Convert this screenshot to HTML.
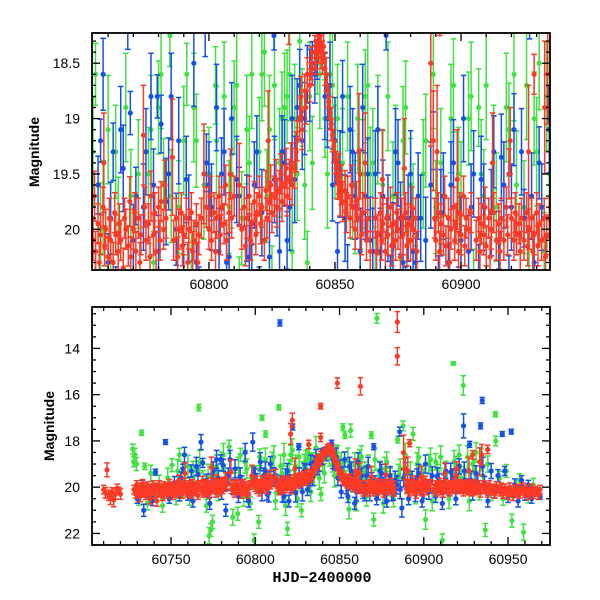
<!DOCTYPE html>
<html><head><meta charset="utf-8"><style>
body{margin:0;background:#fff}
svg{display:block}
text{font-family:"Liberation Sans",sans-serif;font-size:14px;fill:#000}
</style></head><body>
<svg id="chart" width="600" height="600" viewBox="0 0 600 600" xmlns="http://www.w3.org/2000/svg">
<g id="top"></g>
<g id="bot"></g>
<text transform="translate(39,152) rotate(-90)" text-anchor="middle" font-weight="bold">Magnitude</text>
<text transform="translate(54,426) rotate(-90)" text-anchor="middle" font-weight="bold">Magnitude</text>
<text x="322" y="582" text-anchor="middle" font-weight="bold" style="font-family:'Liberation Mono',monospace;font-size:15px">HJD−2400000</text>
</svg>
<script>
const redPts=[[60710,20.1,.12],[60711,20.25,.15],[60712,19.25,.2],[60713,20.35,.15],[60714,20.45,.2],[60715,20.2,.12],[60716,20.55,.2],[60717,20.3,.15],[60718,20.05,.12],[60719,20.15,.1],[60720,20.3,.15],
[60728,20.1,.12],[60729,20.3,.12],[60729.6,19.9,.12],[60730,20.2,.12],[60731,20.0,.12],[60731.7,20.4,.15],[60732,20.1,.12],[60733,19.85,.12],[60733.6,20.25,.12],[60734,20.0,.12],[60735,20.35,.12],[60735.5,20.1,.12],[60736,19.95,.12],[60737,20.2,.12],[60737.6,20.5,.15],[60738,20.05,.12],[60739,20.15,.12],[60739.5,19.9,.12],[60740,20.3,.12],[60741,20.0,.12],[60741.6,20.6,.15],[60742,20.1,.12],[60743,19.9,.12],[60743.5,20.25,.12],[60744,20.05,.12],[60745,20.4,.12],[60745.6,19.95,.12],[60746,20.15,.12],[60747,20.0,.12],[60747.5,20.3,.12],[60748,20.1,.12],[60749,19.85,.12],[60749.6,20.2,.12],[60750,20.05,.12],[60751,20.35,.12],[60751.5,19.95,.12],[60752,20.1,.12],[60753,20.25,.12],[60753.5,19.9,.12],[60754,20.1,.12],[60754.6,19.7,.15],[60755,20.2,.12],[60756,19.95,.12],[60756.5,20.3,.12],[60757,20.05,.12],[60758,19.8,.12],[60758.6,20.15,.12],[60759,20.0,.12],[60760,20.25,.12],[60760.5,19.9,.12],[60761,20.1,.12],[60762,20.3,.12],[60762.6,19.85,.12],[60763,20.05,.12],[60764,20.2,.12],[60764.5,19.95,.12],[60765,20.1,.12],[60766,20.35,.12],[60766.5,19.9,.12],[60767,20.0,.12],[60768,20.15,.12],[60768.6,19.75,.15],[60769,20.25,.12],[60770,20.0,.12],[60770.5,19.85,.12],[60771,20.2,.12],[60772,19.9,.12],[60772.6,20.3,.12],[60773,20.05,.12],[60774,19.15,.3],[60774.5,19.8,.12],[60775,20.1,.12],[60776,19.95,.12],[60776.6,20.25,.12],[60777,19.7,.15],[60778,20.05,.12],[60778.5,19.85,.12],[60779,20.2,.12],[60780,19.8,.12],[60780.6,20.1,.12],[60781,19.75,.12],[60782,20.0,.12],[60782.5,19.6,.15],[60783,19.9,.12],
[60786,20.1,.12],[60787,19.9,.12],[60787.6,20.25,.12],[60788,20.0,.12],[60789,19.85,.12],[60789.5,20.15,.12],[60790,20.05,.12],[60791,19.9,.12],[60791.6,20.3,.12],[60792,20.0,.12],[60793,19.85,.12],[60793.5,20.2,.12],[60794,20.1,.12],[60795,19.95,.12],[60795.6,20.3,.12],[60796,20.05,.12],[60797,19.9,.12],
[60799,19.8,.12],[60800,20.0,.12],[60800.5,19.7,.12],[60801,20.1,.12],[60802,19.85,.12],[60802.6,20.2,.12],[60803,19.9,.12],[60804,19.7,.12],[60804.5,20.05,.12],[60805,19.8,.12],[60806,19.95,.12],[60806.6,19.6,.12],[60807,20.1,.12],[60808,19.85,.12],[60808.5,19.5,.15],[60809,19.9,.12],[60810,19.7,.12],
[60813,20.0,.12],[60814,19.8,.12],[60814.5,20.15,.12],[60815,19.9,.12],[60816,19.7,.12],[60816.5,20.1,.12],[60817,19.95,.12],[60818,19.75,.12],[60818.6,20.05,.12],[60819,19.85,.12],[60820,19.7,.12],[60820.5,19.95,.12],[60821,19.8,.12],[60822,20.1,.12],[60822.6,19.65,.12],[60823,19.9,.12],[60824,19.75,.12],[60824.5,19.6,.12],[60825,19.85,.12],[60826,19.7,.12],[60826.6,19.55,.12],[60827,19.8,.12],[60828,19.65,.12],[60828.5,19.5,.12],[60829,19.75,.12],[60830,19.6,.12],[60830.6,19.45,.12],[60831,19.7,.12],[60832,19.55,.12],[60832.5,19.4,.12],[60833,19.6,.12],[60834,19.45,.12],[60834.6,19.3,.12],[60835,19.2,.12],[60836,19.0,.12],[60836.5,18.8,.12],[60837,19.1,.12],[60838,18.75,.1],[60838.5,18.9,.1],[60839,18.6,.1],[60840,18.7,.1],[60840.5,18.5,.1],[60841,18.55,.1],[60842,18.4,.1],[60842.5,18.45,.1],[60843,18.3,.1],[60843.5,18.35,.1],[60844,18.25,.1],[60844.5,18.4,.1],[60845,18.45,.1],[60845.5,18.35,.1],[60846,18.55,.1],[60846.5,18.6,.1],[60847,18.75,.1],[60847.5,18.85,.1],[60848,18.95,.1],[60848.5,19.05,.1],[60849,19.15,.1],[60849.5,19.25,.1],[60850,19.35,.1],[60850.5,19.45,.1],[60851,19.55,.12],[60851.5,19.5,.12],[60852,19.7,.12],[60852.5,19.6,.12],[60853,19.75,.12],[60854,19.65,.12],[60854.5,19.85,.12],[60855,19.7,.12],[60856,19.9,.12],[60856.5,19.6,.12],[60857,19.8,.12],[60858,20.0,.12],[60858.5,19.75,.12],[60859,19.9,.12],[60860,19.5,.15],[60860.5,20.05,.12],[60861,19.85,.12],[60862,19.4,.3],[60862.5,20.1,.12],[60863,19.9,.12],[60864,20.2,.12],
[60866,19.9,.12],[60866.5,20.2,.12],[60867,20.05,.12],[60868,19.85,.12],[60868.5,20.1,.12],[60869,19.95,.12],[60870,20.2,.12],[60870.5,19.9,.12],[60871,20.05,.12],[60872,19.8,.12],[60872.5,20.15,.12],[60873,19.95,.12],[60874,20.1,.12],[60874.5,19.85,.12],[60875,20.0,.12],[60876,20.25,.12],[60876.5,19.9,.12],[60877,20.05,.12],[60878,19.85,.12],[60878.5,20.15,.12],[60879,19.95,.12],[60880,20.1,.12],[60880.5,19.8,.12],[60881,20.0,.12],[60882,19.9,.12],[60882.5,20.2,.12],
[60888,18.5,.5],[60889,19.2,.3],[60889.5,19.9,.12],[60890,20.1,.12],[60891,19.85,.12],[60891.5,20.2,.12],[60892,19.95,.12],[60893,20.05,.12],[60893.5,19.7,.12],[60894,20.15,.12],[60895,19.9,.12],[60895.5,20.3,.12],[60896,20.0,.12],[60897,19.8,.12],[60897.5,20.1,.12],[60898,19.95,.12],[60899,20.2,.12],[60899.5,19.85,.12],[60900,20.05,.12],[60901,19.7,.12],[60901.5,20.15,.12],[60902,19.9,.12],[60903,20.0,.12],[60904,19.85,.12],
[60906,20.1,.12],[60907,19.9,.12],[60907.5,20.2,.12],[60908,19.95,.12],[60909,20.05,.12],[60909.5,19.8,.12],[60910,20.15,.12],[60911,19.9,.12],[60911.5,20.25,.12],[60912,20.0,.12],[60913,19.85,.12],[60914,20.1,.12],[60915,19.95,.12],[60915.5,20.2,.12],[60916,19.9,.12],[60917,20.1,.12],[60918,19.8,.12],[60918.5,20.05,.12],[60919,19.5,.15],[60919.5,19.2,.2],[60920,19.9,.12],[60921,20.1,.12],[60921.5,19.85,.12],[60922,20.05,.12],[60923,19.95,.12],[60923.5,20.2,.12],[60924,19.9,.12],[60925,20.1,.12],[60926,19.85,.12],[60926.5,20.15,.12],[60927,20.0,.12],[60928,19.9,.12],[60928.5,20.2,.12],[60929,20.05,.12],[60930,19.85,.12],[60930.5,20.15,.12],[60931,19.95,.12],[60932,20.1,.12],[60933,19.9,.12],[60933.5,20.25,.12],[60934,20.05,.12],[60935,19.9,.12],[60936,20.1,.12],[60937,20.0,.12],[60938,20.25,.12],[60939,19.9,.12],[60940,20.15,.12],[60941,20.05,.12],[60942,20.3,.12],[60943,19.95,.12],[60944,20.1,.12],[60945,20.2,.12],[60946,20.0,.12],[60947,20.3,.12],[60948,20.05,.12],[60949,20.15,.12],[60950,20.35,.12],[60951,20.0,.12],[60952,20.2,.12],[60953,20.4,.12],[60954,20.1,.12],[60955,20.25,.12],[60956,20.05,.12],[60957,20.3,.12],[60958,20.15,.12],[60959,20.0,.12],[60960,20.25,.12],[60961,20.1,.12],[60962,20.35,.12],[60963,20.2,.12],[60964,20.05,.12],[60965,20.3,.12],[60966,20.15,.12],[60967,20.2,.12],[60968,20.35,.12],[60969,20.1,.12],
[60831.7,18.15,.12],[60838.8,17.85,.12],[60838.8,16.5,.08],[60848.7,15.5,.15],[60862.4,15.64,.25],[60884.3,12.86,.3],[60884.3,14.34,.25],[60891.6,18.1,.1],[60929,18.6,.12],[60937.9,18.37,.12],[60821,17.7,.3],[60822,17.1,.2],
[60758.3,19.4,.3],[60785.5,19.35,.35],[60798,19.5,.3],[60812,19.6,.25],[60823.5,19.2,.3],[60859.5,19.3,.35],[60868.8,19.55,.3],[60877.5,19.45,.3],[60890.5,19.3,.4],[60898.5,19.55,.3],[60912.5,19.4,.3],[60926.8,19.3,.4],[60933.2,18.9,.4],[60934.4,18.6,.3]];
const bluePts=[[60730,20.5,.15],[60733,19.9,.15],[60733.8,21.0,.2],[60736,20.3,.1],[60739,20.6,.15],[60740.8,19.35,.1],[60744,20.2,.15],[60746.7,18.05,.08],[60749,20.5,.15],[60752,19.8,.2],[60755,20.4,.15],[60757,19.2,.15],[60758,18.6,.25],[60760,20.3,.2],[60762,19.3,.2],[60763,20.6,.2],[60765,19.1,.3],[60767.8,18.05,.25],[60768.8,18.95,.15],[60771,19.7,.2],[60773,20.7,.2],[60775,19.3,.3],[60777,18.8,.3],[60778,19.6,.25],[60779.5,18.8,.15],[60781,19.05,.2],[60782.5,21.0,.2],[60784,19.5,.25],[60785,18.8,.3],[60788,19.2,.3],[60790,20.4,.2],[60792,19.9,.3],[60794,18.5,.3],[60796,20.6,.2],[60798.5,18.05,.3],[60799,19.4,.2],[60801,19.8,.3],[60803,18.9,.3],[60805,19.5,.25],[60807,20.3,.2],[60809,19.0,.25],[60812,19.7,.2],[60814.6,12.9,.1],[60815,19.9,.3],[60817,20.4,.2],[60819,19.3,.25],[60820,20.6,.2],[60822.2,17.4,.1],[60825.8,18.25,.1],[60827,19.8,.2],[60829,19.3,.25],[60831,20.1,.2],[60833,19.0,.3],[60835,18.9,.2],[60837,19.2,.2],[60839,18.6,.2],[60841,18.5,.15],[60843,18.45,.15],[60845.3,18.1,.1],[60847,19.0,.2],[60849,19.6,.25],[60851,20.2,.2],[60853,18.8,.25],[60855,20.4,.2],[60857,19.3,.3],[60859,20.7,.2],[60861,18.9,.3],[60863,19.5,.25],[60865,20.2,.3],[60867,19.1,.3],[60869,19.7,.25],[60870.3,18.25,.1],[60872,20.5,.2],[60874,19.3,.3],[60876,19.9,.25],[60878,20.6,.2],[60880,19.5,.3],[60882,20.3,.2],[60884,19.9,.3],[60885.7,17.6,.15],[60887,20.9,.3],[60889,19.2,.2],[60891,20.5,.2],[60893,19.7,.3],[60895,20.3,.25],[60897,19.4,.3],[60899,20.6,.2],[60901,19.0,.3],[60903,20.2,.25],[60905,19.5,.3],[60907,20.4,.2],[60909,19.8,.3],[60911,20.7,.2],[60913,19.3,.25],[60915,20.1,.2],[60917,19.6,.3],[60919,20.5,.2],[60921,19.1,.25],[60923.6,17.35,.4],[60925,19.9,.2],[60927.2,18.15,.1],[60929,20.3,.2],[60931,19.4,.25],[60933.7,17.35,.1],[60934.7,16.25,.1],[60936,19.8,.2],[60938,20.6,.2],[60940,19.3,.25],[60942,20.2,.2],[60944,19.5,.2],[60946.6,17.7,.08],[60948,19.3,.15],[60950,20.4,.2],[60951.9,17.6,.08],[60954,19.9,.2],[60956,20.6,.2],[60958,19.7,.15],[60960,20.3,.2],[60962,19.9,.15],[60964,20.5,.15],[60966,20.2,.15],[60969,20.4,.1],
[60756,19.6,.2],[60761,19.9,.25],[60766,19.45,.3],[60770,20.1,.25],[60774,19.8,.3],[60780,20.2,.25],[60783,19.75,.3],[60787,20.0,.25],[60791,19.55,.3],[60795,20.3,.25],[60800,19.6,.3],[60804,20.2,.3],[60806,19.3,.3],[60808,20.25,.3],[60811,19.55,.3],[60816,20.25,.3],[60818,19.6,.3],[60821,19.85,.3],[60824,20.25,.3],[60826,19.55,.3],[60828,20.2,.3],[60830,19.4,.3],[60832,19.8,.3],[60834,19.55,.3],[60836,18.7,.25],[60838,19.0,.25],[60840,18.7,.25],[60842,18.6,.2],[60846,18.8,.3],[60848,18.7,.3],[60850,19.2,.3],[60852,19.5,.3],[60854,19.9,.3],[60856,19.1,.3],[60858,19.7,.3],[60860,20.2,.3],[60862,19.7,.3],[60864,20.1,.3],[60866,19.5,.3],[60868,20.2,.3],[60871,19.9,.3],[60873,20.15,.3],[60875,19.4,.3],[60877,20.3,.3],[60879,19.9,.3],[60881,20.2,.3],[60883,19.7,.3],[60886,20.1,.3],[60888,19.6,.3],[60892,19.85,.3],[60896,19.6,.3],[60900,20.1,.3],[60904,19.8,.3],[60908,19.55,.3],[60912,19.85,.3],[60916,19.35,.3],[60920,19.8,.3],[60924,19.3,.3],[60928,19.7,.3],[60932,19.8,.3],[60935,19.1,.3]];
const greenPts=[[60727.3,18.35,.15],[60727.8,18.9,.15],[60728.5,18.6,.2],[60729.5,19.0,.2],[60731,20.5,.2],[60732.5,17.65,.08],[60734.4,19.1,.1],[60736,20.7,.2],[60738,19.4,.25],[60741,20.3,.2],[60743,19.9,.3],[60745,20.8,.2],[60748,19.6,.3],[60750.6,19.05,.2],[60753,20.4,.25],[60755,18.6,.2],[60758,19.8,.3],[60761,20.5,.2],[60763,19.3,.3],[60766.5,16.56,.1],[60769,19.7,.3],[60771,20.8,.2],[60772.6,22.1,.25],[60773.6,21.85,.2],[60774.6,21.5,.2],[60776,19.5,.3],[60778,20.3,.2],[60780,18.9,.3],[60782,19.6,.3],[60784.5,18.25,.2],[60786.6,21.3,.25],[60788,19.8,.3],[60789.6,21.15,.2],[60791.2,18.6,.2],[60793,20.4,.3],[60795,19.2,.3],[60797,20.7,.2],[60799.3,22.3,.2],[60800,19.5,.3],[60802,21.5,.2],[60802.6,18.7,.25],[60804,17.0,.08],[60806.1,17.7,.1],[60808,19.8,.3],[60810,18.9,.3],[60812,20.6,.25],[60814,16.55,.08],[60816,19.4,.3],[60818,20.8,.3],[60819.1,21.8,.2],[60821,18.6,.3],[60823,19.7,.3],[60825,20.5,.25],[60827.4,21.0,.2],[60829,19.0,.3],[60831,18.8,.3],[60833,20.2,.3],[60835,19.5,.3],[60837,18.9,.25],[60839,20.3,.2],[60841,19.4,.3],[60843,18.5,.2],[60846,19.0,.25],[60848,18.6,.3],[60850,19.3,.3],[60852,17.4,.1],[60853.2,17.75,.1],[60855.6,20.95,.3],[60856.6,17.55,.2],[60858,19.8,.3],[60860,20.6,.3],[60862,18.8,.3],[60864,19.5,.3],[60866,20.4,.3],[60868.9,17.75,.1],[60870.3,21.4,.2],[60872.2,12.7,.15],[60874,19.3,.3],[60876,20.7,.3],[60878,18.9,.3],[60880,19.6,.3],[60882,20.5,.25],[60884.5,17.95,.1],[60886,19.2,.3],[60887.7,17.35,.15],[60890,19.8,.3],[60893.6,17.7,.2],[60895,20.3,.3],[60897,18.7,.3],[60899,19.5,.3],[60901,21.4,.3],[60903,19.0,.3],[60905,20.6,.3],[60907,18.9,.25],[60909,19.7,.3],[60911,22.3,.2],[60913,19.3,.3],[60915,20.5,.3],[60917.5,14.65,.05],[60919,19.1,.3],[60921,18.6,.3],[60923.4,15.6,.3],[60925,19.8,.3],[60927,20.6,.3],[60929,19.0,.3],[60931,18.5,.3],[60933,20.2,.25],[60935,19.5,.3],[60936.5,21.85,.2],[60938,19.0,.25],[60940,20.3,.2],[60942.5,16.85,.08],[60942.7,18.0,.15],[60945,19.6,.2],[60947,20.5,.2],[60949,19.3,.2],[60952.3,21.45,.2],[60955,20.0,.2],[60957,19.7,.2],[60959.2,21.95,.25],[60962,20.4,.2],[60965,19.9,.2],[60968,20.3,.15],
[60754,19.3,.35],[60757,20.0,.3],[60760,19.1,.35],[60764,19.95,.3],[60767,18.9,.35],[60772,19.5,.35],[60777,19.1,.35],[60781,18.6,.35],[60785,19.7,.3],[60790,19.2,.35],[60794,18.9,.35],[60798,19.6,.35],[60803,19.2,.35],[60806,18.8,.35],[60809,19.5,.35],[60811,18.7,.35],[60813,19.9,.3],[60815,19.1,.35],[60817,18.6,.35],[60820,19.3,.35],[60822,18.4,.35],[60824,19.1,.35],[60826,18.7,.35],[60828,19.4,.35],[60830,18.9,.35],[60832,18.6,.3],[60834,19.0,.35],[60836,18.3,.35],[60838,19.6,.35],[60840,18.8,.35],[60844,18.6,.35],[60847,19.5,.35],[60849,18.7,.35],[60851,19.0,.35],[60853,19.4,.35],[60855,18.8,.35],[60857,19.6,.35],[60859,19.0,.35],[60861,19.5,.35],[60863,18.7,.35],[60865,19.4,.35],[60867,19.1,.35],[60869,19.6,.35],[60871,18.8,.35],[60873,19.7,.35],[60877,19.2,.35],[60881,19.9,.35],[60885,19.5,.35],[60889,18.6,.35],[60892,19.4,.35],[60896,19.0,.35],[60900,19.7,.35],[60904,18.8,.35],[60908,19.5,.35],[60910,18.7,.35],[60914,19.8,.35],[60918,18.9,.35],[60922,19.6,.35],[60926,18.7,.35],[60930,19.3,.35],[60934,18.8,.35]];
const topYTicks=[18.5,19,19.5,20];
const topXTicks=[60800,60850,60900];
const botYTicks=[14,16,18,20,22];
const botXTicks=[60750,60800,60850,60900,60950];

const NS="http://www.w3.org/2000/svg";
function mk(tag,attrs,parent){const e=document.createElementNS(NS,tag);for(const k in attrs)e.setAttribute(k,attrs[k]);parent.appendChild(e);return e;}
const COLORS={green:"#3fe23f",blue:"#1550e8",red:"#fb3a26"};
const ERRSCALE={green:1.4,blue:1.3,red:1.5};
function panel(g,name,L,R,T,B,x0,x1,y0,y1,yMaj,yMin,xMin,xTicks,yTicks,yFmt){
  const sx=v=>L+(v-x0)/(x1-x0)*(R-L);
  const sy=v=>T+(v-y0)/(y1-y0)*(B-T);
  const cid="clip-"+name;
  const cp=mk("clipPath",{id:cid},g);mk("rect",{x:L,y:T,width:R-L,height:B-T},cp);
  const data=mk("g",{"clip-path":"url(#"+cid+")"},g);
  
  
  [["green",greenPts],["blue",bluePts],["red",redPts]].forEach(([c,pts])=>{
    const sg=mk("g",{stroke:COLORS[c],fill:COLORS[c],"stroke-width":1.5},data);
    
    
    pts.forEach(p=>{
      const e=p[2]*ERRSCALE[c];
      const x=sx(p[0]),ya=sy(p[1]-e),yb=sy(p[1]+e),y=sy(p[1]);
      const pg=mk("g",{},sg);
      
      
      mk("line",{x1:x,x2:x,y1:ya,y2:yb},pg);
      mk("line",{x1:x-2.8,x2:x+2.8,y1:ya,y2:ya},pg);
      mk("line",{x1:x-2.8,x2:x+2.8,y1:yb,y2:yb},pg);
      mk("circle",{cx:x,cy:y,r:2.6,stroke:"none"},pg);
    });
  });
  const ax=mk("g",{stroke:"#000","stroke-width":1.3,fill:"none"},g);
  
  
  mk("rect",{x:L,y:T,width:R-L,height:B-T,"stroke-width":1.8},ax);
  for(let v=Math.ceil(x0/xMin)*xMin;v<=x1;v+=xMin){
    const x=sx(v),maj=Math.abs(v%50)<1e-6,len=maj?8:4;
    mk("line",{x1:x,x2:x,y1:B,y2:B-len},ax);mk("line",{x1:x,x2:x,y1:T,y2:T+len},ax);
  }
  const ymn=Math.min(y0,y1),ymx=Math.max(y0,y1);
  for(let v=Math.ceil(ymn/yMin-1e-6)*yMin;v<=ymx+1e-9;v+=yMin){
    const y=sy(v),maj=Math.abs(v/yMaj-Math.round(v/yMaj))<1e-6,len=maj?8:4;
    mk("line",{x1:L,x2:L+len,y1:y,y2:y},ax);mk("line",{x1:R,x2:R-len,y1:y,y2:y},ax);
  }
  xTicks.forEach(v=>{const t=mk("text",{x:sx(v),y:B+19,"text-anchor":"middle"},g);t.textContent=v;
    
    });
  yTicks.forEach(v=>{const t=mk("text",{x:L-12,y:sy(v)+5,"text-anchor":"end"},g);t.textContent=yFmt(v);
    
    });
}
panel(document.getElementById("top"),"top",92,550,33,270,60753.6,60935.3,18.227,20.368,0.5,0.1,10,topXTicks,topYTicks,v=>String(v));
panel(document.getElementById("bot"),"bottom",92,550,307,545,60703.1,60974.9,12.21,22.5,2,0.5,10,botXTicks,botYTicks,v=>String(v));
</script>
</body></html>
